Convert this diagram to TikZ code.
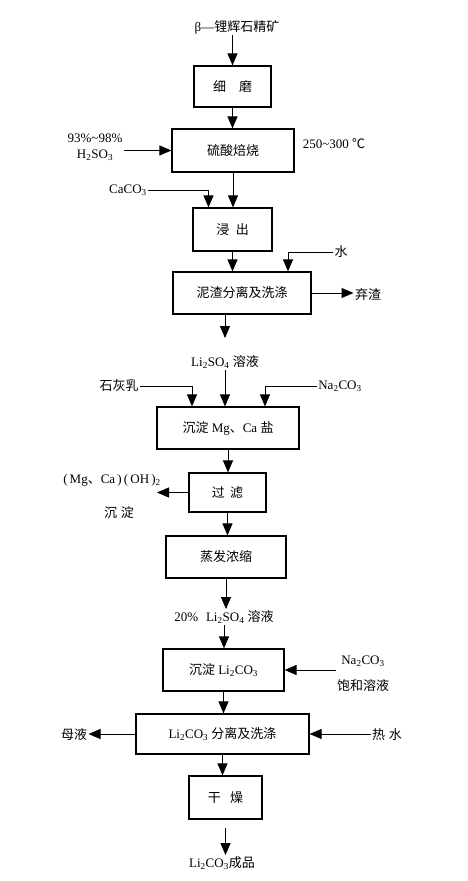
\documentclass[tikz,border=0pt]{standalone}
\usepackage{fontspec}
\setmainfont{Liberation Serif}
\newfontfamily\cjk{Noto Sans CJK SC}
\usetikzlibrary{arrows.meta}

\begin{document}
\begin{tikzpicture}[x=1pt,y=-1pt, line width=1pt,
		box/.style = {draw, line width=1.2pt, inner sep=0pt, font=\fontsize{13}{15}\selectfont},
		lbl/.style = {inner sep=1pt, align=center, font=\fontsize{13}{16}\selectfont},
		>={Triangle[length=12pt,width=10pt]}]
			\useasboundingbox (0,0) rectangle (467,881);

			% process boxes
			\node[box, minimum width=77pt, minimum height=41pt] (1) at (232.5,86.5) {\cjk 细\hspace{1em}磨};
			\node[box, minimum width=122pt, minimum height=43pt] (2) at (233,150.5) {\cjk 硫酸焙烧};
			\node[box, minimum width=79pt, minimum height=43pt] (3) at (232.5,229.5) {\cjk 浸\hspace{0.5em}出};
			\node[box, minimum width=138pt, minimum height=42pt] (4) at (242,293) {\cjk 泥渣分离及洗涤};
			\node[box, minimum width=142pt, minimum height=42pt] (5) at (228,428) {{\cjk 沉淀} Mg{\cjk 、}Ca {\cjk 盐}};
			\node[box, minimum width=77pt, minimum height=39pt] (6) at (227.5,492.5) {\cjk 过\hspace{0.4em}滤};
			\node[box, minimum width=120pt, minimum height=42pt] (7) at (226,557) {\cjk 蒸发浓缩};
			\node[box, minimum width=121pt, minimum height=42pt] (8) at (223.5,670) {{\cjk 沉淀} Li\textsubscript{2}CO\textsubscript{3}};
			\node[box, minimum width=173pt, minimum height=40pt] (9) at (222.5,734) {Li\textsubscript{2}CO\textsubscript{3} {\cjk 分离及洗涤}};
			\node[box, minimum width=73pt, minimum height=43pt] (10) at (225.5,797.5) {\cjk 干\hspace{0.7em}燥};

			% feeds and products
			\node[lbl] (ore) at (237,27) {β—{\cjk 锂辉石精矿}};
			\node[lbl] (acid) at (95,147) {93\%\textasciitilde98\%\\H\textsubscript{2}SO\textsubscript{3}};
			\node[lbl] (temp) at (334,144) {250\textasciitilde300 {\cjk ℃}};
			\node[lbl] (caco3) at (128,190) {CaCO\textsubscript{3}};
			\node[lbl] (water) at (341,252) {\cjk 水};
			\node[lbl] (waste) at (368,295) {\cjk 弃渣};
			\node[lbl] (li) at (225,362) {Li\textsubscript{2}SO\textsubscript{4} {\cjk 溶液}};
			\node[lbl] (lime) at (119,386) {\cjk 石灰乳};
			\node[lbl] (na1) at (340,386) {Na\textsubscript{2}CO\textsubscript{3}};
			\node[lbl] (ppt) at (112,480) {(\,Mg{\cjk 、}Ca\,)\,(\,OH\,)\textsubscript{2}};
			\node[lbl] (ppt2) at (119,513) {\cjk 沉\hspace{0.3em}淀};
			\coordinate (pptend) at (157,496);
			\node[lbl] (li20) at (224,617) {20\%\hspace{0.6em}Li\textsubscript{2}SO\textsubscript{4} {\cjk 溶液}};
			\node[lbl] (na2) at (363,674) {Na\textsubscript{2}CO\textsubscript{3}\\[10pt]{\cjk 饱和溶液}};
			\node[lbl] (mother) at (74,735) {\cjk 母液};
			\node[lbl] (hot) at (387,735) {\cjk 热\hspace{0.3em}水};
			\node[lbl] (product) at (222,863) {Li\textsubscript{2}CO\textsubscript{3}{\cjk 成品}};

			% connectors
			\draw[->] (ore.south -| 1.north) -- (1.north);
			\draw[->] (1.south) -- (1.south |- 2.north);
			\draw[->] (acid.east |- 2.west) -- (2.west);
			\draw[->] (2.south) -- (2.south |- 3.north);
			\draw[->] (caco3.east) -| ([xshift=-24pt]3.north);
			\draw[->] (3.south) -- (3.south |- 4.north);
			\draw[->] (water.west) -| ([xshift=46pt]4.north);
			\draw[->] (4.east) -- (4.east -| waste.west);
			\draw[->, shorten >=16pt] (4.south -| li) -- (li.north);
			\draw[->] (li.south) -- (li.south |- 5.north);
			\draw[->] (lime.east) -| ([xshift=-36pt]5.north);
			\draw[->] (na1.west) -| ([xshift=37pt]5.north);
			\draw[->] (5.south) -- (5.south |- 6.north);
			\draw[->] (6.west) -- (6.west -| pptend);
			\draw[->] (6.south) -- (6.south |- 7.north);
			\draw[->] (7.south) -- (7.south |- li20.north);
			\draw[->] (li20.south) -- (li20.south |- 8.north);
			\draw[->] (na2.west |- 8.east) -- (8.east);
			\draw[->] (8.south) -- (8.south |- 9.north);
			\draw[->] (9.west) -- (9.west -| mother.east);
			\draw[->] (9.east -| hot.west) -- (9.east);
			\draw[->] (9.south) -- (9.south |- 10.north);
			\draw[->, shorten <=8pt] (10.south) -- (10.south |- product.north);
		\end{tikzpicture}
\end{document}
